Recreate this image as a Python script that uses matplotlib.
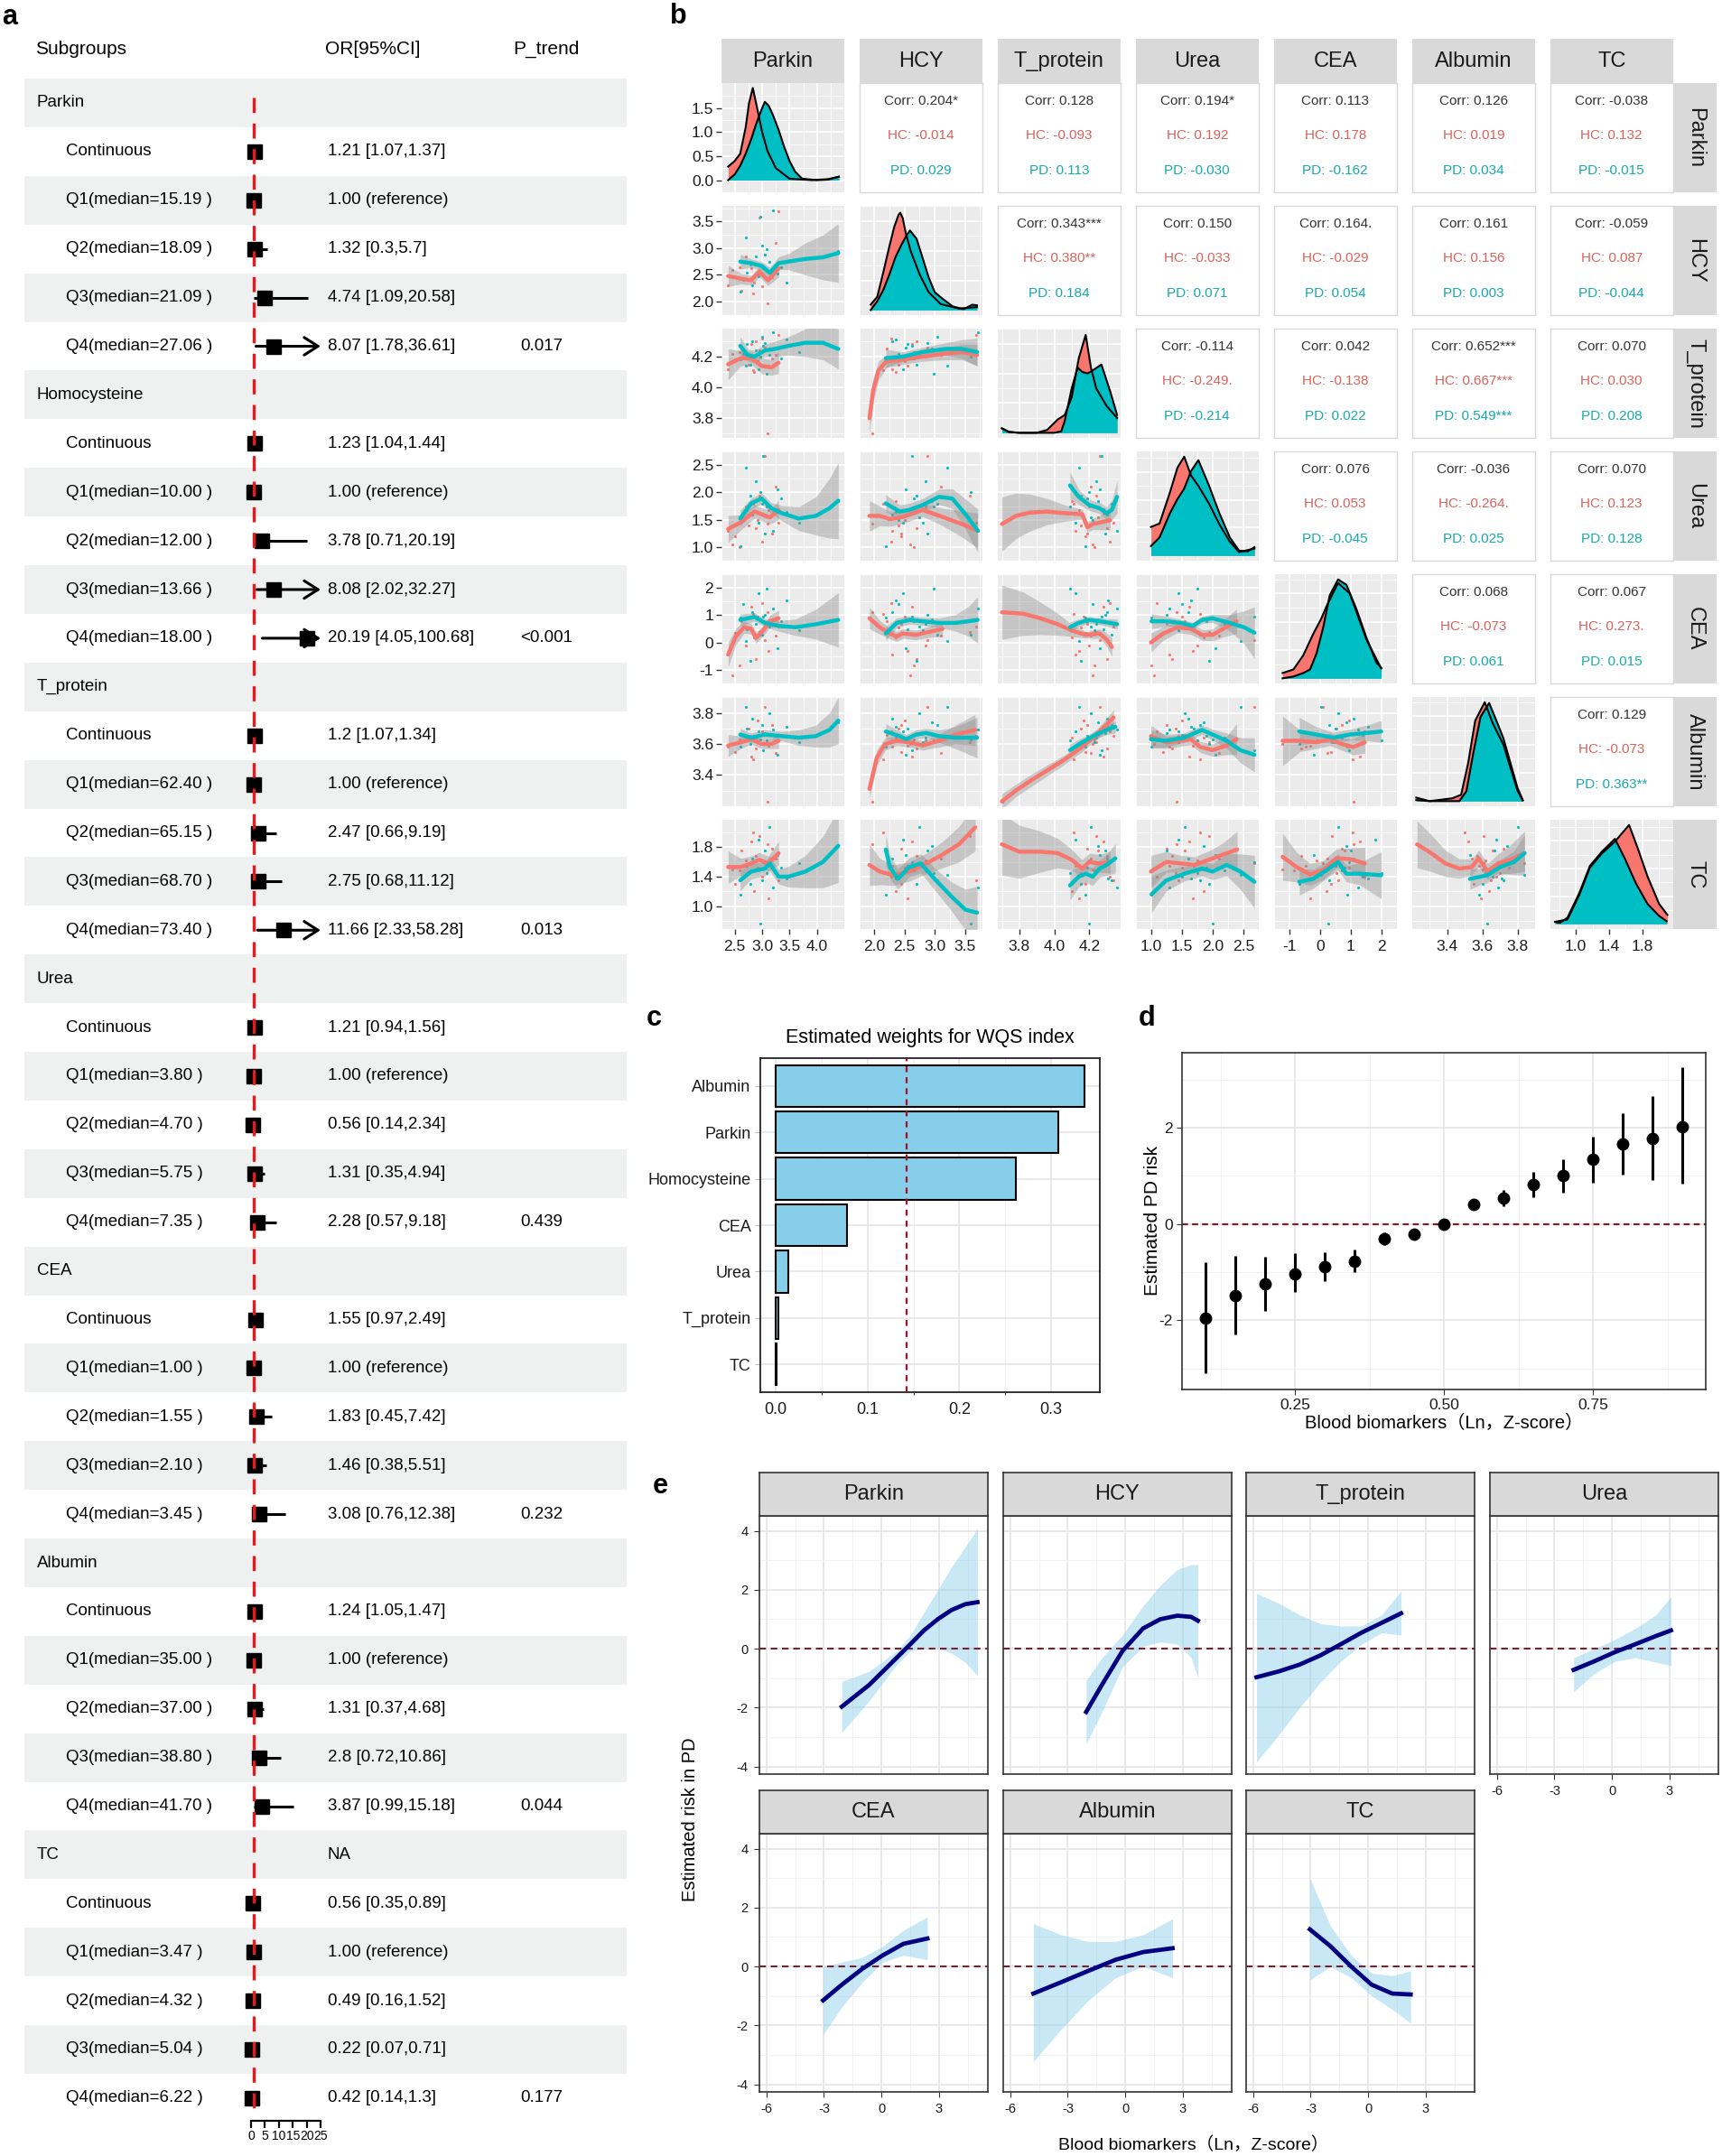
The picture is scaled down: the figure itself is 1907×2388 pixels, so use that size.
import matplotlib.pyplot as plt
from matplotlib.patches import Rectangle
from matplotlib.ticker import MaxNLocator

plt.rcParams["font.family"] = ["Liberation Sans", "Noto Sans CJK SC", "DejaVu Sans"]

# ---------------- panel a : forest table
a_groups = ["Parkin", "Homocysteine", "T_protein", "Urea", "CEA", "Albumin", "TC"]
a_medians = [
    ["15.19", "18.09", "21.09", "27.06"],
    ["10.00", "12.00", "13.66", "18.00"],
    ["62.40", "65.15", "68.70", "73.40"],
    ["3.80", "4.70", "5.75", "7.35"],
    ["1.00", "1.55", "2.10", "3.45"],
    ["35.00", "37.00", "38.80", "41.70"],
    ["3.47", "4.32", "5.04", "6.22"],
]
a_or = [
    [1.21, 1.00, 1.32, 4.74, 8.07],
    [1.23, 1.00, 3.78, 8.08, 20.19],
    [1.20, 1.00, 2.47, 2.75, 11.66],
    [1.21, 1.00, 0.56, 1.31, 2.28],
    [1.55, 1.00, 1.83, 1.46, 3.08],
    [1.24, 1.00, 1.31, 2.80, 3.87],
    [0.56, 1.00, 0.49, 0.22, 0.42],
]
a_lo = [
    [1.07, 1.00, 0.30, 1.09, 1.78],
    [1.04, 1.00, 0.71, 2.02, 4.05],
    [1.07, 1.00, 0.66, 0.68, 2.33],
    [0.94, 1.00, 0.14, 0.35, 0.57],
    [0.97, 1.00, 0.45, 0.38, 0.76],
    [1.05, 1.00, 0.37, 0.72, 0.99],
    [0.35, 1.00, 0.16, 0.07, 0.14],
]
a_hi = [
    [1.37, 1.00, 5.70, 20.58, 36.61],
    [1.44, 1.00, 20.19, 32.27, 100.68],
    [1.34, 1.00, 9.19, 11.12, 58.28],
    [1.56, 1.00, 2.34, 4.94, 9.18],
    [2.49, 1.00, 7.42, 5.51, 12.38],
    [1.47, 1.00, 4.68, 10.86, 15.18],
    [0.89, 1.00, 1.52, 0.71, 1.30],
]
a_or_text = [
    ["1.21 [1.07,1.37]", "1.00 (reference)", "1.32 [0.3,5.7]", "4.74 [1.09,20.58]", "8.07 [1.78,36.61]"],
    ["1.23 [1.04,1.44]", "1.00 (reference)", "3.78 [0.71,20.19]", "8.08 [2.02,32.27]", "20.19 [4.05,100.68]"],
    ["1.2 [1.07,1.34]", "1.00 (reference)", "2.47 [0.66,9.19]", "2.75 [0.68,11.12]", "11.66 [2.33,58.28]"],
    ["1.21 [0.94,1.56]", "1.00 (reference)", "0.56 [0.14,2.34]", "1.31 [0.35,4.94]", "2.28 [0.57,9.18]"],
    ["1.55 [0.97,2.49]", "1.00 (reference)", "1.83 [0.45,7.42]", "1.46 [0.38,5.51]", "3.08 [0.76,12.38]"],
    ["1.24 [1.05,1.47]", "1.00 (reference)", "1.31 [0.37,4.68]", "2.8 [0.72,10.86]", "3.87 [0.99,15.18]"],
    ["0.56 [0.35,0.89]", "1.00 (reference)", "0.49 [0.16,1.52]", "0.22 [0.07,0.71]", "0.42 [0.14,1.3]"],
]
a_group_note = ["", "", "", "", "", "", "NA"]
a_ptrend = ["0.017", "<0.001", "0.013", "0.439", "0.232", "0.044", "0.177"]
a_ticks = [0, 5, 10, 15, 20, 25]

# ---------------- panel b : pairs plot
b_vars = ["Parkin", "HCY", "T_protein", "Urea", "CEA", "Albumin", "TC"]
b_lims = [(2.27, 4.50), (1.86, 3.79), (3.674, 4.38), (0.89, 2.75),
          (-1.37, 2.12), (3.20, 3.866), (0.69, 2.17)]
b_ticks = [[2.5, 3.0, 3.5, 4.0], [2.0, 2.5, 3.0, 3.5], [3.8, 4.0, 4.2],
           [1.0, 1.5, 2.0, 2.5], [-1, 0, 1, 2], [3.4, 3.6, 3.8], [1.0, 1.4, 1.8]]
b_ticklabels = [["2.5", "3.0", "3.5", "4.0"], ["2.0", "2.5", "3.0", "3.5"],
                ["3.8", "4.0", "4.2"], ["1.0", "1.5", "2.0", "2.5"],
                ["-1", "0", "1", "2"], ["3.4", "3.6", "3.8"], ["1.0", "1.4", "1.8"]]
b_dens_ticks = [0.0, 0.5, 1.0, 1.5]
b_dens_ticklabels = ["0.0", "0.5", "1.0", "1.5"]

hc_vals = {
    "Parkin": [3.10, 2.46, 2.38, 2.50, 2.62, 2.70, 2.75, 2.80, 2.85, 2.88,
               2.92, 2.95, 3.00, 3.05, 3.12, 3.18, 3.25, 3.30, 2.58, 2.83],
    "HCY": [1.97, 2.59, 2.30, 2.45, 2.20, 2.85, 2.40, 2.62, 2.35, 2.70,
            2.50, 3.58, 2.28, 2.88, 2.55, 2.45, 3.10, 3.69, 2.65, 2.15],
    "T_protein": [3.70, 4.22, 4.12, 4.18, 4.25, 4.20, 4.15, 4.28, 4.10, 4.30,
                  4.17, 4.24, 4.32, 4.26, 4.14, 4.19, 4.21, 4.34, 4.23, 4.11],
    "Urea": [1.42, 1.05, 1.30, 1.20, 1.55, 1.75, 1.40, 1.62, 1.85, 1.35,
             1.50, 1.95, 1.10, 2.68, 1.68, 1.25, 2.10, 1.45, 1.00, 1.80],
    "CEA": [1.10, -1.21, -0.45, 0.35, 0.80, -0.10, 0.55, 1.30, 0.20, -0.60,
            0.95, 0.40, 1.45, 0.10, -0.30, 0.70, 0.25, 0.60, -0.85, 1.05],
    "Albumin": [3.23, 3.60, 3.58, 3.55, 3.66, 3.62, 3.70, 3.52, 3.64, 3.57,
                3.75, 3.61, 3.68, 3.84, 3.59, 3.72, 3.54, 3.65, 3.63, 3.50],
    "TC": [1.84, 1.50, 1.55, 1.30, 1.75, 1.62, 1.45, 1.88, 1.20, 1.68,
           1.52, 1.95, 1.40, 1.58, 1.10, 1.78, 1.65, 1.35, 1.48, 2.00],
}
pd_vals = {
    "Parkin": [2.97, 4.39, 2.60, 2.65, 2.72, 2.78, 2.82, 2.88, 2.93, 3.00,
               3.02, 3.08, 3.14, 3.20, 3.28, 3.35, 3.45, 3.67, 2.70, 3.05],
    "HCY": [3.59, 2.95, 2.19, 2.40, 2.55, 2.70, 2.30, 2.85, 2.48, 3.05,
            2.62, 2.98, 2.75, 3.71, 2.52, 2.65, 2.35, 2.80, 3.20, 2.88],
    "T_protein": [4.20, 4.25, 4.18, 4.22, 4.28, 4.15, 4.30, 4.24, 4.12, 4.33,
                  4.27, 4.09, 4.21, 4.36, 4.26, 4.19, 4.31, 4.23, 4.14, 4.29],
    "Urea": [2.00, 1.85, 1.01, 1.50, 1.70, 1.95, 1.60, 2.20, 1.45, 1.80,
             2.68, 1.75, 1.55, 1.30, 2.05, 1.90, 1.65, 1.45, 2.45, 1.25],
    "CEA": [0.27, 0.85, 0.90, 1.40, 0.50, -0.67, 1.10, 0.70, 1.80, 0.30,
            0.95, 1.99, 0.60, 1.25, -0.20, 0.80, 1.55, 0.45, 0.05, 1.00],
    "Albumin": [3.63, 3.74, 3.58, 3.66, 3.70, 3.60, 3.76, 3.64, 3.68, 3.72,
                3.56, 3.62, 3.80, 3.69, 3.53, 3.65, 3.71, 3.61, 3.84, 3.67],
    "TC": [0.76, 1.82, 1.16, 1.40, 1.55, 1.30, 1.65, 1.48, 1.90, 1.35,
           1.60, 1.45, 2.07, 1.25, 1.70, 1.52, 1.38, 1.58, 1.42, 1.75],
}

dens_hc_x = {
    "Parkin": [2.38, 2.5, 2.6, 2.7, 2.76, 2.83, 2.9, 3.0, 3.1, 3.25, 3.5, 3.9, 4.2, 4.4],
    "HCY": [1.94, 2.05, 2.15, 2.25, 2.33, 2.40, 2.43, 2.47, 2.52, 2.6, 2.75, 2.9, 3.1, 3.4, 3.7],
    "T_protein": [3.70, 3.74, 3.80, 3.90, 3.96, 4.02, 4.06, 4.10, 4.14, 4.18, 4.21, 4.24, 4.30, 4.36],
    "Urea": [1.0, 1.14, 1.31, 1.43, 1.54, 1.65, 1.77, 1.94, 2.11, 2.28, 2.43, 2.68],
    "CEA": [-1.21, -0.86, -0.54, -0.22, 0.05, 0.22, 0.59, 0.97, 1.51, 1.99],
    "Albumin": [3.225, 3.30, 3.43, 3.48, 3.52, 3.56, 3.614, 3.66, 3.72, 3.80, 3.83],
    "TC": [0.75, 0.90, 1.04, 1.17, 1.31, 1.47, 1.64, 1.745, 1.86, 2.0, 2.10],
}
dens_hc_y = {
    "Parkin": [0.28, 0.4, 0.55, 1.1, 1.6, 1.92, 1.55, 1.0, 0.6, 0.25, 0.03, 0.0, 0.02, 0.07],
    "HCY": [18, 45, 128, 215, 280, 320, 328, 310, 260, 200, 120, 60, 20, 5, 10],
    "T_protein": [15, 3, 0, 0, 10, 45, 60, 120, 250, 330, 220, 150, 90, 50],
    "Urea": [82, 92, 182, 252, 284, 230, 200, 150, 90, 40, 10, 20],
    "CEA": [15, 25, 65, 125, 170, 205, 270, 240, 110, 28],
    "Albumin": [10, 0, 8, 18, 108, 228, 280, 220, 160, 30, 2],
    "TC": [6, 13, 83, 163, 203, 238, 286, 218, 138, 58, 26],
}
dens_pd_x = {
    "Parkin": [2.38, 2.5, 2.6, 2.7, 2.8, 2.9, 3.0, 3.05, 3.12, 3.2, 3.3, 3.4, 3.5, 3.6, 3.73, 4.0, 4.2, 4.4],
    "HCY": [1.94, 2.05, 2.15, 2.25, 2.35, 2.45, 2.53, 2.59, 2.7, 2.8, 2.9, 3.0, 3.13, 3.3, 3.48, 3.62, 3.7],
    "T_protein": [3.70, 3.74, 3.80, 3.90, 4.0, 4.04, 4.06, 4.10, 4.134, 4.16, 4.19, 4.22, 4.27, 4.32, 4.36],
    "Urea": [1.0, 1.14, 1.31, 1.43, 1.54, 1.65, 1.77, 1.94, 2.11, 2.28, 2.43, 2.57, 2.68],
    "CEA": [-1.21, -0.86, -0.54, -0.32, -0.11, 0.11, 0.32, 0.59, 0.86, 1.19, 1.51, 1.83, 1.99],
    "Albumin": [3.225, 3.30, 3.47, 3.51, 3.55, 3.59, 3.639, 3.68, 3.72, 3.76, 3.80, 3.83],
    "TC": [0.75, 0.81, 0.90, 1.04, 1.17, 1.31, 1.47, 1.59, 1.72, 1.86, 2.0, 2.09],
}
dens_pd_y = {
    "Parkin": [0, 0.12, 0.3, 0.55, 0.85, 1.2, 1.5, 1.63, 1.55, 1.35, 1.05, 0.7, 0.4, 0.18, 0.03, 0.0, 0.01, 0.07],
    "HCY": [0, 30, 68, 120, 178, 220, 250, 268, 240, 175, 110, 60, 38, 12, 3, 18, 16],
    "T_protein": [15, 3, 0, 0, 0, 5, 40, 150, 220, 205, 200, 210, 230, 140, 60],
    "Urea": [27, 52, 122, 162, 192, 242, 274, 202, 122, 52, 14, 12, 24],
    "CEA": [0, 5, 15, 25, 70, 145, 235, 280, 265, 195, 115, 45, 30],
    "Albumin": [3, 0, 0, 28, 138, 238, 278, 228, 178, 108, 38, 3],
    "TC": [6, 3, 18, 88, 168, 208, 246, 188, 118, 58, 23, 8],
}

# loess curves: (x, y, half width of band), keyed (row var, col var)
smooth_hc = {
    ("HCY", "Parkin"): [(2.38, 2.48, .20), (2.61, 2.43, .10), (2.80, 2.40, .09), (2.95, 2.56, .10), (3.11, 2.40, .10), (3.30, 2.62, .16)],
    ("T_protein", "Parkin"): [(2.38, 4.15, .10), (2.61, 4.19, .05), (2.80, 4.19, .04), (2.99, 4.14, .05), (3.17, 4.13, .05), (3.30, 4.16, .07)],
    ("T_protein", "HCY"): [(1.92, 3.80, .10), (1.98, 3.98, .08), (2.07, 4.11, .06), (2.20, 4.17, .04), (2.47, 4.18, .03), (2.80, 4.20, .03), (3.18, 4.22, .04), (3.45, 4.23, .05), (3.70, 4.21, .07)],
    ("Urea", "Parkin"): [(2.38, 1.33, .25), (2.61, 1.45, .14), (2.86, 1.65, .12), (2.99, 1.60, .12), (3.14, 1.54, .12), (3.30, 1.68, .18)],
    ("Urea", "HCY"): [(1.92, 1.57, .28), (2.09, 1.57, .18), (2.26, 1.51, .13), (2.47, 1.55, .12), (2.80, 1.68, .12), (3.13, 1.55, .16), (3.45, 1.42, .24), (3.71, 1.30, .32)],
    ("Urea", "T_protein"): [(3.70, 1.42, .50), (3.78, 1.57, .42), (3.86, 1.63, .34), (3.96, 1.65, .24), (4.06, 1.62, .15), (4.16, 1.60, .09), (4.19, 1.36, .10), (4.22, 1.42, .10), (4.32, 1.49, .18)],
    ("CEA", "Parkin"): [(2.38, -0.44, .45), (2.52, 0.22, .30), (2.67, 0.56, .22), (2.80, 0.50, .2), (2.89, 0.17, .2), (3.02, 0.44, .2), (3.14, 0.78, .22), (3.30, 0.89, .3)],
    ("CEA", "HCY"): [(1.92, 0.89, .4), (2.09, 0.56, .25), (2.26, 0.33, .2), (2.37, 0.22, .18), (2.47, 0.33, .18), (2.69, 0.28, .18), (2.91, 0.39, .2), (3.13, 0.50, .28)],
    ("CEA", "T_protein"): [(3.70, 1.11, 1.0), (3.82, 1.06, .8), (3.92, 0.89, .6), (4.02, 0.67, .4), (4.10, 0.44, .22), (4.18, 0.28, .12), (4.26, 0.33, .18), (4.30, 0.11, .25), (4.33, -0.17, .35)],
    ("CEA", "Urea"): [(1.00, 0.00, .35), (1.20, 0.33, .25), (1.43, 0.56, .2), (1.65, 0.50, .2), (1.83, 0.28, .2), (2.00, 0.28, .22), (2.17, 0.50, .3), (2.39, 0.78, .45)],
    ("Albumin", "Parkin"): [(2.38, 3.59, .07), (2.61, 3.61, .04), (2.80, 3.63, .03), (2.99, 3.60, .03), (3.17, 3.60, .03), (3.30, 3.62, .05)],
    ("Albumin", "HCY"): [(1.92, 3.31, .06), (2.04, 3.51, .05), (2.18, 3.60, .04), (2.37, 3.62, .03), (2.58, 3.61, .03), (2.80, 3.59, .03), (3.07, 3.62, .04), (3.34, 3.66, .06), (3.67, 3.69, .10)],
    ("Albumin", "T_protein"): [(3.70, 3.23, .05), (3.78, 3.30, .04), (3.86, 3.36, .04), (3.96, 3.43, .035), (4.06, 3.50, .03), (4.16, 3.58, .03), (4.26, 3.68, .035), (4.34, 3.77, .05)],
    ("Albumin", "Urea"): [(1.00, 3.65, .07), (1.25, 3.61, .04), (1.48, 3.62, .035), (1.65, 3.63, .035), (1.80, 3.58, .035), (2.00, 3.56, .04), (2.23, 3.59, .06), (2.39, 3.63, .10)],
    ("Albumin", "CEA"): [(-1.21, 3.62, .16), (-0.65, 3.62, .07), (-0.11, 3.61, .04), (0.32, 3.63, .04), (0.70, 3.60, .04), (1.08, 3.58, .05), (1.46, 3.61, .07)],
    ("TC", "Parkin"): [(2.38, 1.53, .22), (2.61, 1.53, .12), (2.80, 1.58, .1), (2.95, 1.63, .1), (3.11, 1.58, .1), (3.30, 1.72, .16)],
    ("TC", "HCY"): [(1.92, 1.56, .28), (2.09, 1.47, .18), (2.31, 1.42, .14), (2.58, 1.47, .13), (2.86, 1.58, .14), (3.13, 1.70, .18), (3.40, 1.84, .24), (3.67, 2.07, .32)],
    ("TC", "T_protein"): [(3.70, 1.84, .42), (3.80, 1.74, .36), (3.92, 1.74, .28), (4.02, 1.72, .2), (4.10, 1.63, .14), (4.16, 1.51, .12), (4.20, 1.60, .12), (4.26, 1.58, .12), (4.32, 1.60, .15)],
    ("TC", "Urea"): [(1.00, 1.47, .22), (1.25, 1.60, .14), (1.48, 1.58, .11), (1.71, 1.56, .11), (1.94, 1.63, .12), (2.17, 1.70, .16), (2.40, 1.77, .25)],
    ("TC", "CEA"): [(-1.21, 1.67, .32), (-0.75, 1.53, .2), (-0.32, 1.43, .15), (0.11, 1.49, .13), (0.54, 1.65, .13), (0.97, 1.64, .15), (1.46, 1.58, .22)],
    ("TC", "Albumin"): [(3.23, 1.84, .32), (3.31, 1.72, .25), (3.39, 1.58, .18), (3.47, 1.51, .13), (3.54, 1.53, .11), (3.58, 1.65, .11), (3.63, 1.47, .11), (3.69, 1.58, .13), (3.76, 1.63, .2), (3.84, 1.72, .3)],
}
smooth_pd = {
    ("HCY", "Parkin"): [(2.60, 2.75, .14), (2.80, 2.72, .08), (2.99, 2.67, .08), (3.14, 2.54, .10), (3.30, 2.72, .12), (3.48, 2.75, .15), (3.79, 2.80, .30), (4.11, 2.83, .42), (4.39, 2.91, .55)],
    ("T_protein", "Parkin"): [(2.60, 4.27, .06), (2.74, 4.21, .04), (2.86, 4.20, .04), (3.05, 4.24, .04), (3.23, 4.25, .05), (3.48, 4.27, .06), (3.79, 4.29, .09), (4.11, 4.29, .11), (4.39, 4.25, .13)],
    ("T_protein", "HCY"): [(2.19, 4.19, .06), (2.47, 4.20, .03), (2.80, 4.23, .03), (3.18, 4.25, .04), (3.45, 4.25, .06), (3.70, 4.23, .09)],
    ("Urea", "Parkin"): [(2.60, 1.52, .15), (2.80, 1.80, .10), (2.99, 1.89, .10), (3.17, 1.71, .10), (3.36, 1.62, .14), (3.67, 1.52, .22), (3.98, 1.57, .35), (4.23, 1.71, .55), (4.39, 1.85, .70)],
    ("Urea", "HCY"): [(2.19, 1.80, .16), (2.42, 1.65, .12), (2.58, 1.68, .12), (2.80, 1.77, .12), (3.07, 1.92, .14), (3.29, 1.89, .18), (3.51, 1.60, .28), (3.71, 1.30, .40)],
    ("Urea", "T_protein"): [(4.09, 2.13, .25), (4.14, 1.92, .14), (4.20, 1.77, .10), (4.26, 1.71, .10), (4.30, 1.62, .12), (4.33, 1.68, .18), (4.36, 1.92, .30)],
    ("CEA", "Parkin"): [(2.60, 0.83, .22), (2.86, 0.94, .15), (3.05, 0.72, .15), (3.30, 0.61, .2), (3.61, 0.56, .3), (3.98, 0.67, .55), (4.39, 0.83, 1.0)],
    ("CEA", "HCY"): [(2.19, 0.33, .25), (2.37, 0.72, .18), (2.58, 0.83, .15), (2.80, 0.78, .15), (3.07, 0.72, .18), (3.34, 0.72, .3), (3.56, 0.78, .55), (3.71, 0.83, .85)],
    ("CEA", "T_protein"): [(4.09, 0.56, .2), (4.14, 0.72, .14), (4.20, 0.83, .12), (4.26, 0.78, .12), (4.32, 0.72, .15), (4.36, 0.67, .2)],
    ("CEA", "Urea"): [(1.01, 0.78, .28), (1.25, 0.78, .18), (1.48, 0.72, .13), (1.68, 0.61, .13), (1.83, 0.83, .13), (2.00, 0.89, .15), (2.28, 0.72, .3), (2.51, 0.56, .6), (2.68, 0.36, .95)],
    ("Albumin", "Parkin"): [(2.60, 3.66, .04), (2.80, 3.64, .03), (3.05, 3.66, .03), (3.36, 3.65, .03), (3.67, 3.64, .05), (3.98, 3.65, .07), (4.23, 3.69, .11), (4.39, 3.75, .15)],
    ("Albumin", "HCY"): [(2.19, 3.68, .05), (2.42, 3.65, .03), (2.53, 3.63, .03), (2.69, 3.66, .03), (2.86, 3.67, .03), (3.07, 3.65, .04), (3.34, 3.64, .07), (3.70, 3.64, .13)],
    ("Albumin", "T_protein"): [(4.09, 3.56, .04), (4.16, 3.61, .03), (4.24, 3.66, .025), (4.30, 3.69, .03), (4.35, 3.71, .04)],
    ("Albumin", "Urea"): [(1.00, 3.63, .06), (1.25, 3.62, .04), (1.54, 3.64, .03), (1.83, 3.69, .03), (2.00, 3.66, .035), (2.23, 3.62, .05), (2.45, 3.56, .08), (2.68, 3.53, .11)],
    ("Albumin", "CEA"): [(-0.67, 3.68, .09), (-0.11, 3.66, .05), (0.43, 3.64, .035), (0.97, 3.66, .035), (1.51, 3.67, .05), (1.99, 3.68, .07)],
    ("TC", "Parkin"): [(2.60, 1.35, .14), (2.80, 1.47, .1), (3.05, 1.51, .1), (3.14, 1.58, .1), (3.30, 1.40, .1), (3.48, 1.40, .14), (3.79, 1.47, .22), (4.11, 1.60, .35), (4.39, 1.82, .5)],
    ("TC", "HCY"): [(2.19, 1.77, .2), (2.26, 1.53, .16), (2.39, 1.37, .14), (2.58, 1.53, .13), (2.77, 1.58, .13), (3.02, 1.35, .15), (3.29, 1.12, .2), (3.51, 0.95, .28), (3.70, 0.91, .36)],
    ("TC", "T_protein"): [(4.09, 1.28, .2), (4.14, 1.40, .14), (4.18, 1.44, .12), (4.22, 1.40, .12), (4.26, 1.51, .12), (4.30, 1.56, .14), (4.35, 1.65, .2)],
    ("TC", "Urea"): [(1.01, 1.16, .25), (1.25, 1.35, .14), (1.54, 1.44, .1), (1.83, 1.51, .1), (2.00, 1.47, .11), (2.23, 1.56, .15), (2.45, 1.47, .24), (2.68, 1.33, .36)],
    ("TC", "CEA"): [(-0.67, 1.33, .18), (-0.22, 1.37, .13), (0.22, 1.49, .11), (0.59, 1.60, .11), (0.86, 1.44, .11), (1.29, 1.44, .15), (1.99, 1.42, .32)],
    ("TC", "Albumin"): [(3.53, 1.37, .14), (3.59, 1.40, .11), (3.63, 1.42, .1), (3.70, 1.53, .1), (3.78, 1.60, .15), (3.84, 1.72, .25)],
}

corr_text = {
    ("Parkin", "HCY"): ("0.204*", "-0.014", "0.029"),
    ("Parkin", "T_protein"): ("0.128", "-0.093", "0.113"),
    ("Parkin", "Urea"): ("0.194*", "0.192", "-0.030"),
    ("Parkin", "CEA"): ("0.113", "0.178", "-0.162"),
    ("Parkin", "Albumin"): ("0.126", "0.019", "0.034"),
    ("Parkin", "TC"): ("-0.038", "0.132", "-0.015"),
    ("HCY", "T_protein"): ("0.343***", "0.380**", "0.184"),
    ("HCY", "Urea"): ("0.150", "-0.033", "0.071"),
    ("HCY", "CEA"): ("0.164.", "-0.029", "0.054"),
    ("HCY", "Albumin"): ("0.161", "0.156", "0.003"),
    ("HCY", "TC"): ("-0.059", "0.087", "-0.044"),
    ("T_protein", "Urea"): ("-0.114", "-0.249.", "-0.214"),
    ("T_protein", "CEA"): ("0.042", "-0.138", "0.022"),
    ("T_protein", "Albumin"): ("0.652***", "0.667***", "0.549***"),
    ("T_protein", "TC"): ("0.070", "0.030", "0.208"),
    ("Urea", "CEA"): ("0.076", "0.053", "-0.045"),
    ("Urea", "Albumin"): ("-0.036", "-0.264.", "0.025"),
    ("Urea", "TC"): ("0.070", "0.123", "0.128"),
    ("CEA", "Albumin"): ("0.068", "-0.073", "0.061"),
    ("CEA", "TC"): ("0.067", "0.273.", "0.015"),
    ("Albumin", "TC"): ("0.129", "-0.073", "0.363**"),
}

# ---------------- panel c : WQS weights
c_names = ["Albumin", "Parkin", "Homocysteine", "CEA", "Urea", "T_protein", "TC"]
c_weights = [0.336, 0.308, 0.262, 0.078, 0.014, 0.003, 0.001]
c_cutoff = 0.143

# ---------------- panel d : quantile effects
d_x = [0.10, 0.15, 0.20, 0.25, 0.30, 0.35, 0.40, 0.45, 0.50,
       0.55, 0.60, 0.65, 0.70, 0.75, 0.80, 0.85, 0.90]
d_y = [-1.95, -1.49, -1.25, -1.03, -0.89, -0.78, -0.31, -0.21, 0.0,
       0.41, 0.53, 0.82, 1.00, 1.34, 1.66, 1.78, 2.03]
d_lo = [-3.11, -2.29, -1.81, -1.42, -1.19, -1.00, -0.44, -0.29, -0.03,
        0.31, 0.375, 0.55, 0.66, 0.85, 1.02, 0.91, 0.83]
d_hi = [-0.79, -0.67, -0.68, -0.61, -0.58, -0.54, -0.17, -0.14, 0.03,
        0.52, 0.71, 1.08, 1.35, 1.81, 2.31, 2.66, 3.26]

# ---------------- panel e : univariate exposure-response
e_vars = ["Parkin", "HCY", "T_protein", "Urea", "CEA", "Albumin", "TC"]
e_x = {
    "Parkin": [-2.07, -0.64, 0.79, 1.50, 2.21, 2.93, 3.64, 4.36, 5.0],
    "HCY": [-2.04, -1.22, -0.15, 0.93, 1.82, 2.71, 3.43, 3.78],
    "T_protein": [-5.82, -4.65, -3.57, -2.50, -1.43, -0.36, 0.71, 1.71],
    "Urea": [-2.0, -0.93, 0.14, 1.21, 2.29, 3.07],
    "CEA": [-3.04, -2.07, -1.0, 0.07, 1.14, 2.39],
    "Albumin": [-4.79, -3.36, -1.93, -0.5, 0.93, 2.46],
    "TC": [-3.04, -1.97, -0.89, 0.18, 1.25, 2.21],
}
e_y = {
    "Parkin": [-1.97, -1.23, -0.31, 0.15, 0.62, 1.0, 1.31, 1.51, 1.58],
    "HCY": [-2.15, -1.23, -0.08, 0.69, 1.0, 1.12, 1.08, 0.95],
    "T_protein": [-0.97, -0.77, -0.54, -0.23, 0.15, 0.54, 0.88, 1.2],
    "Urea": [-0.72, -0.43, -0.12, 0.15, 0.43, 0.62],
    "CEA": [-1.15, -0.62, -0.08, 0.38, 0.77, 0.95],
    "Albumin": [-0.92, -0.54, -0.15, 0.23, 0.49, 0.62],
    "TC": [1.26, 0.69, 0.0, -0.62, -0.92, -0.95],
}
e_lo = {
    "Parkin": [-2.85, -1.77, -0.54, -0.08, 0.0, 0.0, -0.15, -0.46, -0.92],
    "HCY": [-3.23, -2.15, -0.62, 0.08, 0.23, 0.15, -0.31, -1.0],
    "T_protein": [-3.85, -2.92, -2.0, -1.15, -0.43, 0.15, 0.54, 0.46],
    "Urea": [-1.46, -0.85, -0.43, -0.31, -0.46, -0.58],
    "CEA": [-2.31, -1.38, -0.54, 0.15, 0.38, 0.23],
    "Albumin": [-3.23, -2.15, -1.15, -0.38, 0.0, -0.38],
    "TC": [-0.46, 0.0, -0.38, -1.0, -1.46, -1.92],
}
e_hi = {
    "Parkin": [-1.11, -0.77, -0.08, 0.46, 1.23, 2.0, 2.77, 3.46, 4.08],
    "HCY": [-1.08, -0.31, 0.46, 1.46, 2.15, 2.69, 2.85, 2.85],
    "T_protein": [1.88, 1.54, 1.15, 0.85, 0.77, 0.77, 1.15, 1.97],
    "Urea": [-0.31, 0.0, 0.31, 0.69, 1.15, 1.77],
    "CEA": [0.0, 0.15, 0.31, 0.69, 1.23, 1.69],
    "Albumin": [1.46, 1.08, 0.85, 0.85, 1.08, 1.62],
    "TC": [3.0, 1.38, 0.38, -0.23, -0.31, -0.15],
}

HC_COL = "#F8766D"
PD_COL = "#00BFC4"

W, H = 1907, 2388
fig = plt.figure(figsize=(W / 100, H / 100), dpi=100)
fig.patch.set_facecolor("white")


def add_ax(x0, y0, x1, y1):
    # box given in pixels, y measured from the top
    return fig.add_axes([x0 / W, 1 - y1 / H, (x1 - x0) / W, (y1 - y0) / H])


def ftext(x, y, s, **kw):
    fig.text(x / W, 1 - y / H, s, **kw)


def minor_of(ticks):
    step = ticks[1] - ticks[0]
    return [t - step / 2 for t in ticks] + [ticks[-1] + step / 2]


# ================= panel a
ROW0, ROWH = 114, 53.9
ax_t = add_ax(0, 0, 700, H)
ax_t.set_xlim(0, 700)
ax_t.set_ylim(H, 0)
ax_t.axis("off")

n_rows = 6 * len(a_groups)
for i in range(0, n_rows, 2):
    y = ROW0 + ROWH * i
    ax_t.add_patch(Rectangle((27, y - ROWH / 2), 667, ROWH, fc="#EFF1F1", ec="none"))

ax_t.text(39, 54, "Subgroups", fontsize=15, va="center")
ax_t.text(360, 54, "OR[95%CI]", fontsize=15, va="center")
ax_t.text(568, 54, "P_trend", fontsize=15, va="center")

for k, g in enumerate(a_groups):
    yg = ROW0 + ROWH * 6 * k
    ax_t.text(41, yg, g, fontsize=13.5, va="center")
    if a_group_note[k]:
        ax_t.text(363, yg, a_group_note[k], fontsize=13.5, va="center")
    for j in range(5):
        y = yg + ROWH * (j + 1)
        lab = "Continuous" if j == 0 else "Q%d(median=%s )" % (j, a_medians[k][j - 1])
        ax_t.text(73, y, lab, fontsize=13.5, va="center")
        ax_t.text(363, y, a_or_text[k][j], fontsize=13.5, va="center")
    ax_t.text(576, yg + ROWH * 5, a_ptrend[k], fontsize=13.5, va="center")

ax_f = add_ax(278, 0, 355, 2349)
ax_f.set_xlim(0, 25)
ax_f.set_ylim(2349, 0)
ax_f.patch.set_visible(False)
for k in range(len(a_groups)):
    for j in range(5):
        y = ROW0 + ROWH * (6 * k + 1 + j)
        o, lo, hi = a_or[k][j], a_lo[k][j], a_hi[k][j]
        if hi > 25:
            ax_f.annotate("", xy=(25, y), xytext=(lo, y),
                          arrowprops=dict(arrowstyle="->,head_length=0.55,head_width=0.35",
                                          lw=2.2, color="black", mutation_scale=20,
                                          shrinkA=0, shrinkB=0))
        else:
            ax_f.plot([lo, hi], [y, y], color="black", lw=2.2, solid_capstyle="butt")
        ax_f.plot([o], [y], marker="s", ms=12, color="black", clip_on=False, zorder=3)
ax_f.plot([1, 1], [108, 2343], color="#E41A1C", lw=2.4, ls=(0, (5, 3.5)),
          zorder=6, clip_on=False)
for s in ["top", "left", "right"]:
    ax_f.spines[s].set_visible(False)
ax_f.spines["bottom"].set_bounds(0, 25)
ax_f.spines["bottom"].set_linewidth(1.6)
ax_f.set_xticks(a_ticks)
ax_f.set_xticklabels([str(t) for t in a_ticks])
ax_f.set_yticks([])
ax_f.tick_params(axis="x", length=6, width=1.6, labelsize=10, pad=1)

ftext(11, 19, "a", fontsize=22, fontweight="bold", ha="center", va="center")

# ================= panel b
BX0, BPITCH, BW = 798.5, 153.0, 136.5
BY0, BRPITCH, BH = 92.3, 136.0, 120.5
nv = len(b_vars)


def gg_grid(ax, xt, yt):
    ax.set_facecolor("#EBEBEB")
    ax.set_xticks(xt)
    ax.set_xticks(minor_of(xt), minor=True)
    ax.set_yticks(yt)
    ax.set_yticks(minor_of(yt), minor=True)
    ax.grid(which="major", color="white", lw=1.2)
    ax.grid(which="minor", color="white", lw=0.6)
    ax.set_axisbelow(True)
    for s in ax.spines.values():
        s.set_visible(False)
    ax.tick_params(which="both", length=0, labelbottom=False, labelleft=False)


for i, rv in enumerate(b_vars):
    for j, cv in enumerate(b_vars):
        x0 = BX0 + BPITCH * j
        y0 = BY0 + BRPITCH * i
        ax = add_ax(x0, y0, x0 + BW, y0 + BH)
        if j > i:
            ax.set_xticks([])
            ax.set_yticks([])
            for s in ax.spines.values():
                s.set_color("#D9D9D9")
                s.set_linewidth(1.0)
            c, h, p = corr_text[(rv, cv)]
            ax.text(0.5, 0.84, "Corr: " + c, transform=ax.transAxes, ha="center",
                    va="center", fontsize=11, color="#333333")
            ax.text(0.5, 0.52, "HC: " + h, transform=ax.transAxes, ha="center",
                    va="center", fontsize=11, color="#D9625B")
            ax.text(0.5, 0.20, "PD: " + p, transform=ax.transAxes, ha="center",
                    va="center", fontsize=11, color="#14ABAD")
            continue
        ax.set_xlim(b_lims[j])
        if j == i:
            m = max(max(dens_hc_y[rv]), max(dens_pd_y[rv]))
            ax.set_ylim(-0.05 * m, 1.05 * m)
            if i == 0:
                yt = b_dens_ticks
            else:
                yt = list(MaxNLocator(4).tick_values(0, m))[1:-1]
            gg_grid(ax, b_ticks[j], yt)
            ax.fill_between(dens_hc_x[rv], 0, dens_hc_y[rv], color=HC_COL, lw=0)
            ax.plot(dens_hc_x[rv], dens_hc_y[rv], color="black", lw=1.5)
            ax.fill_between(dens_pd_x[rv], 0, dens_pd_y[rv], color=PD_COL, lw=0)
            ax.plot(dens_pd_x[rv], dens_pd_y[rv], color="black", lw=1.5)
        else:
            ax.set_ylim(b_lims[i])
            gg_grid(ax, b_ticks[j], b_ticks[i])
            ax.scatter(hc_vals[cv], hc_vals[rv], s=5, color=HC_COL, lw=0, zorder=2)
            ax.scatter(pd_vals[cv], pd_vals[rv], s=5, color=PD_COL, lw=0, zorder=2)
            for pts, col in ((smooth_hc[(rv, cv)], HC_COL), (smooth_pd[(rv, cv)], PD_COL)):
                xs = [p[0] for p in pts]
                ys = [p[1] for p in pts]
                lo = [p[1] - p[2] for p in pts]
                hi = [p[1] + p[2] for p in pts]
                ax.fill_between(xs, lo, hi, color="#8C8C8C", alpha=0.4, lw=0, zorder=3)
                ax.plot(xs, ys, color=col, lw=3.2, zorder=4, solid_capstyle="round")
        if j == 0:
            ax.tick_params(axis="y", which="major", length=4, width=1, color="#333333",
                           labelleft=True, labelsize=12.5, labelcolor="#1A1A1A", pad=2)
            if i == 0:
                ax.set_yticklabels(b_dens_ticklabels)
            else:
                ax.set_yticklabels(b_ticklabels[i])
        if i == nv - 1:
            ax.tick_params(axis="x", which="major", length=4, width=1, color="#333333",
                           labelbottom=True, labelsize=12.5, labelcolor="#1A1A1A", pad=5)
            ax.set_xticklabels(b_ticklabels[j])

for j, v in enumerate(b_vars):
    x0 = BX0 + BPITCH * j
    s_ax = add_ax(x0, 43.3, x0 + BW, 92.3)
    s_ax.set_facecolor("#D9D9D9")
    s_ax.set_xticks([])
    s_ax.set_yticks([])
    for s in s_ax.spines.values():
        s.set_visible(False)
    s_ax.text(0.5, 0.5, v, transform=s_ax.transAxes, ha="center", va="center",
              fontsize=17, color="#1A1A1A")
for i, v in enumerate(b_vars):
    y0 = BY0 + BRPITCH * i
    s_ax = add_ax(1853.3, y0, 1901, y0 + BH)
    s_ax.set_facecolor("#D9D9D9")
    s_ax.set_xticks([])
    s_ax.set_yticks([])
    for s in s_ax.spines.values():
        s.set_visible(False)
    s_ax.text(0.5, 0.5, v, transform=s_ax.transAxes, ha="center", va="center",
              fontsize=17, rotation=-90, color="#1A1A1A")

ftext(751, 18, "b", fontsize=22, fontweight="bold", ha="center", va="center")

# ================= panel c
ax_c = add_ax(842, 1172, 1218, 1542)
ax_c.barh(c_names, c_weights, height=0.9, color="#87CEEB", edgecolor="black", lw=1.5, zorder=3)
ax_c.set_ylim(len(c_names) - 0.4, -0.6)
ax_c.set_xlim(-0.0168, 0.353)
ax_c.axvline(c_cutoff, color="#A50F26", lw=1.6, ls=(0, (3, 2.5)), zorder=4)
ax_c.set_xticks([0.0, 0.1, 0.2, 0.3])
ax_c.set_xticklabels(["0.0", "0.1", "0.2", "0.3"])
ax_c.set_xticks([0.05, 0.15, 0.25], minor=True)
ax_c.grid(which="major", color="#E3E3E3", lw=1.1)
ax_c.grid(which="minor", axis="x", color="#EEEEEE", lw=0.6)
ax_c.set_axisbelow(True)
ax_c.tick_params(axis="both", length=4, color="#BBBBBB", labelsize=13, labelcolor="#1A1A1A")
ax_c.tick_params(axis="x", length=0, pad=8)
for s in ax_c.spines.values():
    s.set_color("#222222")
    s.set_linewidth(1.3)
ax_c.set_title("Estimated weights for WQS index", fontsize=15.5, pad=12)
ftext(724, 1128, "c", fontsize=22, fontweight="bold", ha="center", va="center")

# ================= panel d
ax_d = add_ax(1309, 1166, 1889, 1539)
ax_d.vlines(d_x, d_lo, d_hi, color="black", lw=2.2, zorder=3)
ax_d.plot(d_x, d_y, "o", color="black", ms=9, zorder=4)
ax_d.axhline(0, color="#7A1F2B", lw=1.6, ls=(0, (3, 2)), zorder=2)
ax_d.set_xlim(0.06, 0.939)
ax_d.set_ylim(-3.44, 3.56)
ax_d.set_xticks([0.25, 0.50, 0.75])
ax_d.set_xticklabels(["0.25", "0.50", "0.75"])
ax_d.set_xticks([0.125, 0.375, 0.625, 0.875], minor=True)
ax_d.set_yticks([-2, 0, 2])
ax_d.set_yticklabels(["-2", "0", "2"])
ax_d.set_yticks([-3, -1, 1, 3], minor=True)
ax_d.grid(which="major", color="#E3E3E3", lw=1.1)
ax_d.grid(which="minor", color="#F0F0F0", lw=0.6)
ax_d.set_axisbelow(True)
ax_d.tick_params(which="major", length=4, color="#333333", labelsize=12.5, labelcolor="#1A1A1A")
ax_d.tick_params(which="minor", length=0)
for s in ax_d.spines.values():
    s.set_color("#333333")
    s.set_linewidth(1.2)
ftext(1276, 1352, "Estimated PD risk", fontsize=15, rotation=90, ha="center", va="center")
ftext(1599, 1576, "Blood biomarkers（Ln，Z-score）", fontsize=14.5, ha="center", va="center")
ftext(1270, 1128, "d", fontsize=22, fontweight="bold", ha="center", va="center")

# ================= panel e
ECOL = [841, 1111, 1380, 1650]
EW = 253
ETOP = [1679, 2031]
EH = 286
SH = 48
for k, v in enumerate(e_vars):
    r, c = divmod(k, 4)
    x0 = ECOL[c]
    y0 = ETOP[r]
    ax = add_ax(x0, y0, x0 + EW, y0 + EH)
    ax.fill_between(e_x[v], e_lo[v], e_hi[v], color="#87CEEB", alpha=0.45, lw=0, zorder=2)
    ax.plot(e_x[v], e_y[v], color="#000080", lw=3.4, zorder=4)
    ax.axhline(0, color="#7A1F2B", lw=1.5, ls=(0, (3.5, 2.5)), zorder=3)
    ax.set_xlim(-6.36, 5.54)
    ax.set_ylim(-4.26, 4.51)
    ax.set_xticks([-6, -3, 0, 3])
    ax.set_xticklabels(["-6", "-3", "0", "3"])
    ax.set_xticks([-4.5, -1.5, 1.5, 4.5], minor=True)
    ax.set_yticks([-4, -2, 0, 2, 4])
    ax.set_yticklabels(["-4", "-2", "0", "2", "4"])
    ax.set_yticks([-3, -1, 1, 3], minor=True)
    ax.grid(which="major", color="#E3E3E3", lw=1.1)
    ax.grid(which="minor", color="#F0F0F0", lw=0.6)
    ax.set_axisbelow(True)
    show_x = (r == 1) or (c == 3)
    ax.tick_params(which="major", length=4, color="#333333", labelsize=10.5,
                   labelcolor="#1A1A1A", labelbottom=show_x, labelleft=(c == 0),
                   bottom=show_x, left=(c == 0), pad=5)
    ax.tick_params(which="minor", length=0)
    for s in ax.spines.values():
        s.set_color("#333333")
        s.set_linewidth(1.2)
    s_ax = add_ax(x0, y0 - SH, x0 + EW, y0)
    s_ax.set_facecolor("#D9D9D9")
    s_ax.set_xticks([])
    s_ax.set_yticks([])
    for s in s_ax.spines.values():
        s.set_color("#333333")
        s.set_linewidth(1.2)
    s_ax.text(0.5, 0.5, v, transform=s_ax.transAxes, ha="center", va="center",
              fontsize=17, color="#1A1A1A")

ftext(765, 2015, "Estimated risk in PD", fontsize=14.5, rotation=90, ha="center", va="center")
ftext(1322, 2376, "Blood biomarkers（Ln，Z-score）", fontsize=14, ha="center", va="center")
ftext(731, 1646, "e", fontsize=22, fontweight="bold", ha="center", va="center")

fig.savefig("out.png", dpi=100)
